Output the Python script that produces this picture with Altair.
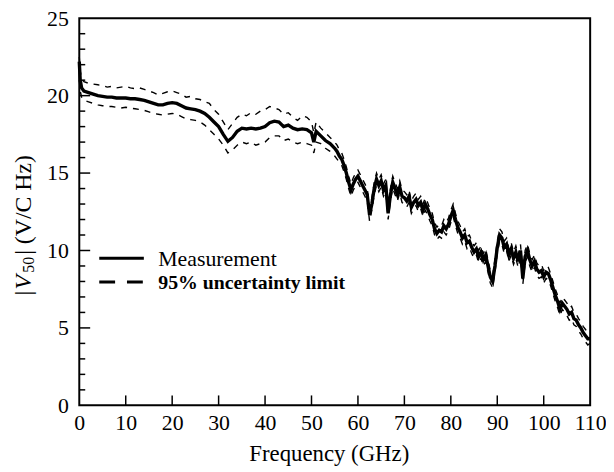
import altair as alt
import pandas as pd

# ---------------- data ----------------
freq = [
    0, 0.2, 0.5, 1, 2, 3, 4, 5, 6, 7,
    8, 9, 10, 11, 12, 13, 14, 15, 16, 17,
    18, 19, 20, 21, 22, 23, 24, 25, 26, 27,
    28, 29, 30, 31, 32, 33, 34, 35, 36, 37,
    38, 39, 40, 41, 42, 43, 44, 45, 46, 47,
    48, 49, 50, 50.5, 51, 52, 53, 54, 55, 55.5,
    56, 56.5, 57, 57.5, 58, 58.5, 59, 59.5, 60, 60.5,
    61, 61.5, 62, 62.5, 63, 63.5, 64, 64.5, 65, 65.5,
    66, 66.5, 67, 67.5, 68, 68.5, 69, 69.5, 70, 70.5,
    71, 71.5, 72, 72.5, 73, 73.5, 74, 74.5, 75, 75.5,
    76, 76.5, 77, 77.5, 78, 78.5, 79, 79.5, 80, 80.5,
    81, 81.5, 82, 82.5, 83, 83.5, 84, 84.5, 85, 85.5,
    86, 86.5, 87, 87.5, 88, 88.5, 89, 89.5, 90, 90.5,
    91, 91.5, 92, 92.5, 93, 93.5, 94, 94.5, 95, 95.5,
    96, 96.5, 97, 97.5, 98, 98.5, 99, 99.5, 100, 100.5,
    101, 101.5, 102, 102.5, 103, 103.5, 104, 104.5, 105, 105.5,
    106, 106.5, 107, 107.5, 108, 108.5, 109, 109.5, 110,
]

measurement = [
    22.2, 21.0, 20.5, 20.3, 20.2, 20.1, 20.0, 19.95, 19.9, 19.9,
    19.85, 19.85, 19.85, 19.8, 19.8, 19.75, 19.7, 19.6, 19.5, 19.4,
    19.4, 19.5, 19.55, 19.5, 19.35, 19.2, 19.15, 19.1, 19.0, 18.85,
    18.6, 18.3, 18.0, 17.5, 17.05, 17.3, 17.7, 17.9, 17.85, 17.9,
    17.85, 17.9, 18.0, 18.25, 18.35, 18.3, 18.0, 18.1, 17.9, 17.8,
    17.85, 17.8, 17.6, 17.0, 17.7, 17.4, 17.1, 16.9, 16.6, 16.4,
    16.1, 15.9, 15.5, 15.0, 14.4, 13.9, 14.3, 14.6, 14.8, 14.5,
    14.2, 13.9, 13.6, 12.3, 13.0, 14.0, 14.6, 14.2, 14.5, 13.9,
    14.2, 12.4, 13.6, 14.4, 14.0, 13.6, 14.1, 13.5, 13.4, 13.2,
    13.5, 12.8, 13.1, 13.3, 12.9, 13.1, 12.6, 13.0, 12.7, 12.3,
    12.0, 11.4, 11.1, 11.3, 11.2, 11.6, 11.4, 11.7, 12.2, 12.6,
    12.0, 11.5, 11.2, 10.8, 11.0, 10.5, 10.6, 10.2, 9.9, 10.1,
    9.6, 9.9, 9.4, 9.7, 9.0, 8.3, 8.0, 9.0, 10.2, 11.0,
    10.8, 10.2, 10.4, 9.7, 10.1, 9.5, 9.9, 9.3, 10.0, 8.2,
    9.6, 10.0, 9.4, 9.0, 9.3, 8.8, 8.6, 8.7, 8.3, 8.6,
    8.5, 8.1, 7.6, 7.1, 6.7, 6.2, 6.6, 6.4, 6.2, 5.9,
    6.0, 5.6, 5.5, 5.2, 5.0, 4.7, 4.5, 4.3, 4.3,
]

upper = [
    22.5, 21.6, 21.1, 20.9, 20.8, 20.75, 20.7, 20.65, 20.55, 20.6,
    20.5, 20.55, 20.6, 20.5, 20.45, 20.5, 20.4, 20.3, 20.2, 20.05,
    20.15, 20.25, 20.3, 20.2, 20.1, 19.9, 19.95, 19.8, 19.75, 19.6,
    19.5, 19.1, 18.8, 18.3, 17.8, 18.2, 18.6, 18.8, 18.7, 18.9,
    18.8, 19.0, 19.1, 19.3, 19.2, 19.1, 18.8, 18.9, 18.6, 18.4,
    18.7, 18.6, 18.3, 17.6, 18.3, 17.9, 17.6, 17.3, 17.0, 16.8,
    16.5, 16.3, 15.9, 15.4, 14.8, 14.3, 14.7, 15.0, 15.2, 14.9,
    14.6, 14.3, 14.0, 12.8, 13.4, 14.4, 15.0, 14.6, 14.9, 14.3,
    14.6, 12.9, 14.0, 14.8, 14.4, 14.0, 14.5, 13.9, 13.8, 13.6,
    13.9, 13.2, 13.5, 13.7, 13.3, 13.5, 13.0, 13.4, 13.1, 12.7,
    12.4, 11.8, 11.5, 11.7, 11.6, 12.0, 11.8, 12.1, 12.6, 13.0,
    12.4, 11.9, 11.6, 11.2, 11.4, 10.9, 11.0, 10.6, 10.3, 10.5,
    10.0, 10.3, 9.8, 10.1, 9.4, 8.7, 8.4, 9.4, 10.6, 11.4,
    11.2, 10.6, 10.8, 10.1, 10.5, 9.9, 10.3, 9.7, 10.4, 8.6,
    10.0, 10.4, 9.8, 9.4, 9.7, 9.2, 9.0, 9.1, 8.7, 9.0,
    8.9, 8.5, 8.0, 7.5, 7.1, 6.6, 7.0, 6.8, 6.6, 6.3,
    6.4, 6.0, 5.9, 5.6, 5.4, 5.1, 4.9, 4.7, 4.6,
]

lower = [
    21.0, 20.3, 19.9, 19.7, 19.6, 19.5, 19.4, 19.35, 19.3, 19.3,
    19.25, 19.2, 19.25, 19.2, 19.15, 19.1, 19.05, 18.95, 18.85, 18.8,
    18.75, 18.8, 18.85, 18.8, 18.65, 18.5, 18.45, 18.4, 18.3, 18.1,
    17.8, 17.5, 17.2, 16.8, 16.3, 16.5, 16.8, 17.0, 16.9, 17.0,
    16.8, 16.9, 17.0, 17.3, 17.4, 17.4, 17.1, 17.2, 17.0, 16.9,
    17.0, 16.9, 16.8, 16.3, 17.0, 16.9, 16.6, 16.4, 16.1, 15.9,
    15.7, 15.5, 15.1, 14.6, 14.0, 13.5, 13.9, 14.2, 14.4, 14.1,
    13.8, 13.5, 13.2, 11.9, 12.6, 13.6, 14.2, 13.8, 14.1, 13.5,
    13.8, 12.0, 13.2, 14.0, 13.6, 13.2, 13.7, 13.1, 13.0, 12.8,
    13.1, 12.4, 12.7, 12.9, 12.5, 12.7, 12.2, 12.6, 12.3, 11.9,
    11.6, 11.0, 10.7, 10.9, 10.8, 11.2, 11.0, 11.3, 11.8, 12.2,
    11.6, 11.1, 10.8, 10.4, 10.6, 10.1, 10.2, 9.8, 9.5, 9.7,
    9.2, 9.5, 9.0, 9.3, 8.6, 7.9, 7.6, 8.6, 9.8, 10.6,
    10.4, 9.8, 10.0, 9.3, 9.7, 9.1, 9.5, 8.9, 9.6, 7.8,
    9.2, 9.6, 9.0, 8.6, 8.9, 8.4, 8.2, 8.3, 7.9, 8.2,
    8.1, 7.7, 7.2, 6.7, 6.3, 5.8, 6.2, 6.0, 5.8, 5.5,
    5.6, 5.2, 5.1, 4.8, 4.6, 4.3, 4.1, 3.9, 4.0,
]

x_ticks = [0, 10, 20, 30, 40, 50, 60, 70, 80, 90, 100, 110]
y_major = [0, 5, 10, 15, 20, 25]
y_minor = [1, 2, 3, 4, 6, 7, 8, 9, 11, 12, 13, 14, 16, 17, 18, 19, 21, 22, 23, 24]

legend_labels = ["Measurement", "95% uncertainty limit"]
legend_line_x = [4.3, 13.9]
legend_y = [9.5, 7.97]
legend_text_x = 17.0

# ---------------- chart ----------------
FONT = "Liberation Serif, Times New Roman, serif"
W, H = 516, 391
TOP = 8

df = pd.DataFrame({"f": freq, "m": measurement, "u": upper, "l": lower})

xs = alt.Scale(domain=[0, 110], nice=False, zero=False)
ys = alt.Scale(domain=[0, 25], nice=False, zero=False)

xax = alt.Axis(values=x_ticks, title="Frequency (GHz)", labelPadding=7, titlePadding=10,
               labelFlush=False, titleX=252)
yax = alt.Axis(values=y_major, title="", labelPadding=11)

base = alt.Chart(df)

up_line = base.mark_line(color="black", strokeWidth=1.4, strokeDash=[6, 6]).encode(
    x=alt.X("f:Q", scale=xs, axis=xax), y=alt.Y("u:Q", scale=ys, axis=yax))
lo_line = base.mark_line(color="black", strokeWidth=1.4, strokeDash=[6, 6]).encode(
    x=alt.X("f:Q", scale=xs), y=alt.Y("l:Q", scale=ys))
m_line = base.mark_line(color="black", strokeWidth=3.4).encode(
    x=alt.X("f:Q", scale=xs), y=alt.Y("m:Q", scale=ys))

# inward ticks
xt = alt.Chart(pd.DataFrame({"v": x_ticks[1:-1]})).mark_rule(color="black", strokeWidth=1.5).encode(
    x=alt.X("v:Q", scale=xs), y=alt.value(H), y2=alt.value(H - 10))
ytM = alt.Chart(pd.DataFrame({"v": y_major[1:-1]})).mark_rule(color="black", strokeWidth=1.5).encode(
    y=alt.Y("v:Q", scale=ys), x=alt.value(0), x2=alt.value(11))
ytm = alt.Chart(pd.DataFrame({"v": y_minor})).mark_rule(color="black", strokeWidth=1.5).encode(
    y=alt.Y("v:Q", scale=ys), x=alt.value(0), x2=alt.value(6))

# legend (inside plot)
leg_solid = alt.Chart(pd.DataFrame({"x": legend_line_x, "y": [legend_y[0]] * 2})).mark_line(
    color="black", strokeWidth=3).encode(x=alt.X("x:Q", scale=xs), y=alt.Y("y:Q", scale=ys))
leg_dash = alt.Chart(pd.DataFrame({"x": legend_line_x, "y": [legend_y[1]] * 2})).mark_line(
    color="black", strokeWidth=3, strokeDash=[16, 12]).encode(x=alt.X("x:Q", scale=xs), y=alt.Y("y:Q", scale=ys))
leg_t1 = alt.Chart(pd.DataFrame({"x": [legend_text_x], "y": [legend_y[0]], "t": [legend_labels[0]]})).mark_text(
    font=FONT, fontSize=22, align="left", baseline="middle", color="black", dy=1).encode(
    x=alt.X("x:Q", scale=xs), y=alt.Y("y:Q", scale=ys), text="t:N")
leg_t2 = alt.Chart(pd.DataFrame({"x": [legend_text_x], "y": [legend_y[1]], "t": [legend_labels[1]]})).mark_text(
    font=FONT, fontSize=20, fontWeight="bold", align="left", baseline="middle", color="black", dy=1).encode(
    x=alt.X("x:Q", scale=xs), y=alt.Y("y:Q", scale=ys), text="t:N")

# y-axis title |V50| (V/C Hz) built from pieces (rotated)
TX = -56
OFF = 8 + TOP
def piece(txt, ypix, size=24, style="normal", dx=0):
    return alt.Chart(pd.DataFrame({"t": [txt]})).mark_text(
        font=FONT, fontSize=size, fontStyle=style, angle=270, align="left",
        baseline="middle", color="black").encode(
        x=alt.value(TX + dx), y=alt.value(ypix), text="t:N")

yt1 = piece("|", 296 - OFF)
yt2 = piece("V", 290 - OFF, style="italic")
yt3 = piece("50", 273 - OFF, size=16, dx=5)
yt4 = piece("| (V/C Hz)", 255 - OFF)

chart = alt.layer(
    up_line, lo_line, m_line, xt, ytM, ytm,
    leg_solid, leg_dash, leg_t1, leg_t2,
    yt1, yt2, yt3, yt4,
).properties(
    width=W, height=H,
    autosize=alt.AutoSizeParams(type="none"),
    padding={"left": 72, "top": TOP, "right": 16, "bottom": 64},
).configure_view(
    stroke="black", strokeWidth=2
).configure_axis(
    domain=False, grid=False, ticks=False,
    labelFont=FONT, labelFontSize=22, labelColor="black",
    titleFont=FONT, titleFontSize=23, titleColor="black", titleFontWeight="normal",
)

chart.save("out.html", embed_options={"renderer": "svg", "actions": False})
